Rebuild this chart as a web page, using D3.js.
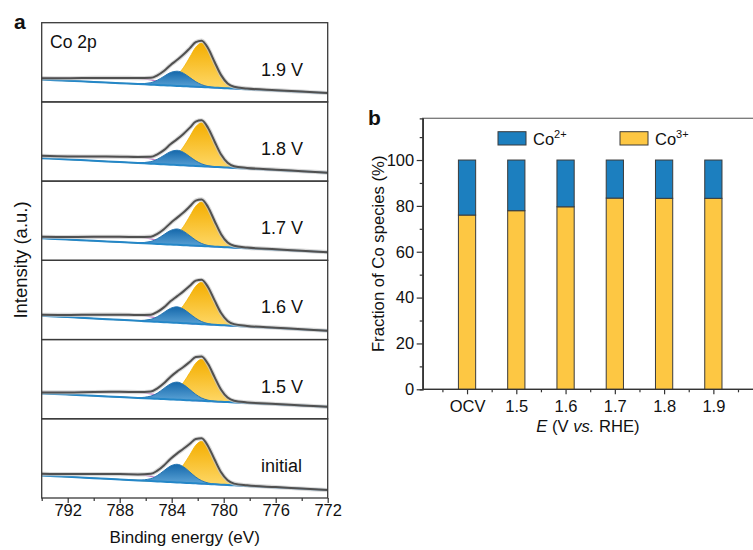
<!DOCTYPE html>
<html lang="en">
<head>
<meta charset="UTF-8">
<title>Co 2p XPS and Co species fraction</title>
<script src="https://d3js.org/d3.v7.min.js"></script>
<style>
  body, html { margin: 0; padding: 0; background: #fff; }
  svg { display: block; font-family: "Liberation Sans", Arial, sans-serif; }
</style>
</head>
<body>
<script>
// ---------- panel a : Co 2p spectra ----------
const energy = [794, 792, 790, 788, 786.6, 785.6, 785.1, 784.6, 784.1, 783.6, 783.1, 782.6, 782.15, 781.7, 781.2, 780.7, 780.2, 779.7, 779.2, 778.2, 776, 774, 772];
const spectraLabels = ["1.9 V", "1.8 V", "1.7 V", "1.6 V", "1.5 V", "initial"];

// linear background: intensity at 794 eV and at 772 eV
const bgStart = [22.4, 23.0, 22.0, 23.8, 25.4, 22.5];
const bgEnd   = [8.9, 8.5, 8.2, 8.8, 12.0, 7.9];

// satellite, Co2+ and Co3+ components (intensity above background, on the energy grid)
const satellite = [
  [1.3, 2.5, 4.0, 5.3, 5.8, 4.8, 3.6, 2.3, 1.2, 0.5, 0.1, 0, 0, 0, 0, 0, 0, 0, 0, 0, 0, 0, 0],
  [2.3, 3.0, 4.2, 5.4, 5.8, 4.8, 3.6, 2.3, 1.2, 0.5, 0.1, 0, 0, 0, 0, 0, 0, 0, 0, 0, 0, 0, 0],
  [1.6, 2.6, 4.0, 5.3, 5.8, 4.8, 3.6, 2.3, 1.2, 0.5, 0.1, 0, 0, 0, 0, 0, 0, 0, 0, 0, 0, 0, 0],
  [1.0, 2.2, 3.8, 5.2, 5.6, 4.6, 3.5, 2.2, 1.2, 0.5, 0.1, 0, 0, 0, 0, 0, 0, 0, 0, 0, 0, 0, 0],
  [1.0, 2.2, 3.8, 5.2, 5.6, 4.6, 3.5, 2.2, 1.2, 0.5, 0.1, 0, 0, 0, 0, 0, 0, 0, 0, 0, 0, 0, 0],
  [1.7, 2.7, 4.1, 5.4, 5.8, 4.8, 3.6, 2.3, 1.2, 0.5, 0.1, 0, 0, 0, 0, 0, 0, 0, 0, 0, 0, 0, 0]
];
const co2 = [
  [0, 0, 0, 0, 0.2, 2.0, 4.8, 8.9, 13.0, 14.7, 13.0, 8.9, 5.1, 2.4, 0.8, 0.2, 0.05, 0, 0, 0, 0, 0, 0],
  [0, 0, 0, 0, 0.2, 2.0, 4.8, 8.9, 13.0, 14.7, 13.0, 8.9, 5.1, 2.4, 0.8, 0.2, 0.05, 0, 0, 0, 0, 0, 0],
  [0, 0, 0, 0, 0.2, 2.15, 5.2, 9.65, 14.0, 15.9, 14.0, 9.65, 5.6, 2.6, 0.9, 0.24, 0.05, 0, 0, 0, 0, 0, 0],
  [0, 0, 0, 0, 0.2, 2.2, 5.2, 9.7, 14.1, 16.0, 14.1, 9.7, 5.6, 2.6, 0.9, 0.24, 0.05, 0, 0, 0, 0, 0, 0],
  [0, 0, 0, 0, 0.2, 2.4, 5.7, 10.7, 15.5, 17.6, 15.5, 10.7, 6.2, 2.9, 1.0, 0.26, 0.05, 0, 0, 0, 0, 0, 0],
  [0, 0, 0, 0, 0.2, 2.4, 5.9, 11.0, 16.0, 18.1, 16.0, 11.0, 6.3, 3.0, 1.0, 0.27, 0.05, 0, 0, 0, 0, 0, 0]
];
const co3 = [
  [0, 0, 0, 0, 0, 0, 1.3, 3.1, 6.2, 10.6, 18.5, 29.5, 39.6, 44.0, 38.3, 25.5, 12.8, 4.8, 1.8, 0.7, 0.35, 0.18, 0],
  [0, 0, 0, 0, 0, 0, 1.3, 3.0, 6.1, 10.4, 18.3, 29.1, 39.2, 43.5, 37.8, 25.2, 12.6, 4.8, 1.7, 0.65, 0.35, 0.17, 0],
  [0, 0, 0, 0, 0, 0, 1.3, 3.1, 6.2, 10.6, 18.5, 29.5, 39.6, 44.0, 38.3, 25.5, 12.8, 4.8, 1.8, 0.7, 0.35, 0.18, 0],
  [0, 0, 0, 0, 0, 0, 1.25, 2.9, 5.9, 10.0, 17.6, 28.0, 37.6, 41.8, 36.4, 24.2, 12.1, 4.6, 1.7, 0.6, 0.33, 0.17, 0],
  [0, 0, 0, 0, 0, 0, 1.25, 2.9, 5.8, 10.0, 17.4, 27.8, 37.4, 41.5, 36.1, 24.1, 12.0, 4.6, 1.7, 0.6, 0.33, 0.17, 0],
  [0, 0, 0, 0, 0, 0, 1.27, 3.0, 5.9, 10.2, 17.8, 28.3, 38.1, 42.3, 36.8, 24.5, 12.3, 4.7, 1.7, 0.63, 0.34, 0.17, 0]
];
const energyMajorTicks = [792, 788, 784, 780, 776, 772];
const energyMinorTicks = [794, 790, 786, 782, 778, 774];

// ---------- panel b : fraction of Co species ----------
const potentials = ["OCV", "1.5", "1.6", "1.7", "1.8", "1.9"];
const co3Fraction = [76.0, 77.9, 79.6, 83.4, 83.3, 83.3];
const co2Fraction = [24.0, 22.1, 20.4, 16.6, 16.7, 16.7];
const fracMajorTicks = [0, 20, 40, 60, 80, 100];
const fracMinorTicks = [10, 30, 50, 70, 90, 110];

const blue = "#1c7fbf", yellow = "#fdc743";

const svg = d3.select("body").append("svg")
  .attr("width", 753)
  .attr("height", 550);

const defs = svg.append("defs");
function gradient(id, top, bottom) {
  const g = defs.append("linearGradient").attr("id", id)
    .attr("x1", 0).attr("y1", 0).attr("x2", 0).attr("y2", 1);
  g.append("stop").attr("offset", "0%").attr("stop-color", top);
  g.append("stop").attr("offset", "100%").attr("stop-color", bottom);
}
gradient("gBlue", "#1568ab", "#72b6e4");
gradient("gYellow", "#f4ae00", "#ffdc72");

// ===== panel a =====
const aLeft = 41.7, aRight = 327.7, aTop = 22.7, aBottom = 498;
const xA = d3.scaleLinear().domain([794, 772]).range([aLeft, aRight]);
const band = d3.scaleBand().domain(spectraLabels).range([aTop, aBottom]);

spectraLabels.forEach((lab, k) => {
  const top = band(lab), h = band.bandwidth();
  const yS = d3.scaleLinear().domain([0, 79.2]).range([top + h, top]);
  const bg = d3.scaleLinear().domain([794, 772]).range([bgStart[k], bgEnd[k]]);

  const pts = energy.map((e, i) => ({
    e: e,
    b: bg(e),
    sat: bg(e) + satellite[k][i],
    c2: bg(e) + co2[k][i],
    c3: bg(e) + co3[k][i],
    env: bg(e) + satellite[k][i] + co2[k][i] + co3[k][i]
  }));

  const g = svg.append("g");
  const curve = d3.curveMonotoneX;
  const area = key => d3.area().x(d => xA(d.e)).y0(d => yS(d.b)).y1(d => yS(d[key])).curve(curve);
  const line = key => d3.line().x(d => xA(d.e)).y(d => yS(d[key])).curve(curve);

  // satellite component
  g.append("path").attr("d", line("sat")(pts))
    .attr("fill", "none").attr("stroke", "#c882c9").attr("stroke-width", 1.3);
  // Co3+ component
  g.append("path").attr("d", area("c3")(pts)).attr("fill", "url(#gYellow)");
  g.append("path").attr("d", line("c3")(pts))
    .attr("fill", "none").attr("stroke", "#f3b200").attr("stroke-width", 0.8);
  // Co2+ component
  g.append("path").attr("d", area("c2")(pts)).attr("fill", "url(#gBlue)");
  g.append("path").attr("d", line("c2")(pts))
    .attr("fill", "none").attr("stroke", "#2676b3").attr("stroke-width", 1);
  // background
  g.append("path").attr("d", line("b")(pts))
    .attr("fill", "none").attr("stroke", "#2487c8").attr("stroke-width", 2);
  // measured data halo + envelope
  g.append("path").attr("d", line("env")(pts))
    .attr("fill", "none").attr("stroke", "#c8c8c8").attr("stroke-width", 4.2)
    .attr("opacity", 0.7);
  g.append("path").attr("d", line("env")(pts))
    .attr("fill", "none").attr("stroke", "#505050").attr("stroke-width", 2);

  // frame
  g.append("rect").attr("x", aLeft).attr("y", top)
    .attr("width", aRight - aLeft).attr("height", h)
    .attr("fill", "none").attr("stroke", "#3a3a3a").attr("stroke-width", 1.3);

  g.append("text").attr("x", 261).attr("y", top + 53)
    .attr("font-size", 18).attr("fill", "#111").text(lab);
});

svg.append("text").attr("x", 50).attr("y", 48.3)
  .attr("font-size", 17.5).attr("fill", "#111").text("Co 2p");

const axA = svg.append("g").attr("transform", `translate(0,${aBottom})`);
axA.append("g").call(d3.axisBottom(xA).tickValues(energyMinorTicks).tickSize(3).tickFormat(""))
  .call(s => s.select(".domain").remove());
axA.append("g").call(d3.axisBottom(xA).tickValues(energyMajorTicks).tickSize(5).tickPadding(1.5))
  .call(s => s.select(".domain").remove());
axA.selectAll("line").attr("stroke", "#333").attr("stroke-width", 1.2);
axA.selectAll("text").attr("font-size", 16.5).attr("fill", "#111")
  .attr("font-family", "Liberation Sans, Arial, sans-serif");

svg.append("text").attr("x", (aLeft + aRight) / 2).attr("y", 543)
  .attr("text-anchor", "middle").attr("font-size", 17).attr("fill", "#111")
  .text("Binding energy (eV)");
svg.append("text").attr("transform", "translate(27,260) rotate(-90)")
  .attr("text-anchor", "middle").attr("font-size", 18.5).attr("fill", "#111")
  .text("Intensity (a.u.)");
svg.append("text").attr("x", 14).attr("y", 29.3)
  .attr("font-size", 21).attr("font-weight", "bold").attr("fill", "#111").text("a");

// ===== panel b =====
const bLeft = 422.7, bRight = 757.7, bTop = 118.3, bBottom = 389.3;
const xB = d3.scaleLinear().domain([-0.9, 5.9]).range([bLeft, bRight]);
const yB = d3.scaleLinear().domain([0, 118.2]).range([bBottom, bTop]);
const barW = xB(0.35) - xB(0);

svg.append("rect").attr("x", bLeft).attr("y", bTop)
  .attr("width", bRight - bLeft).attr("height", bBottom - bTop)
  .attr("fill", "none").attr("stroke", "#777").attr("stroke-width", 1.3);

const bars = svg.append("g");
bars.selectAll("rect.co3").data(potentials).join("rect")
  .attr("class", "co3")
  .attr("x", (d, i) => xB(i) - barW / 2)
  .attr("y", (d, i) => yB(co3Fraction[i]))
  .attr("width", barW)
  .attr("height", (d, i) => yB(0) - yB(co3Fraction[i]))
  .attr("fill", yellow).attr("stroke", "#3b3b3b").attr("stroke-width", 1);
bars.selectAll("rect.co2").data(potentials).join("rect")
  .attr("class", "co2")
  .attr("x", (d, i) => xB(i) - barW / 2)
  .attr("y", (d, i) => yB(co3Fraction[i] + co2Fraction[i]))
  .attr("width", barW)
  .attr("height", (d, i) => yB(co3Fraction[i]) - yB(co3Fraction[i] + co2Fraction[i]))
  .attr("fill", blue).attr("stroke", "#3b3b3b").attr("stroke-width", 1);

const axBy = svg.append("g").attr("transform", `translate(${bLeft},0)`);
axBy.append("g").call(d3.axisLeft(yB).tickValues(fracMinorTicks).tickSize(3).tickFormat(""));
axBy.append("g").call(d3.axisLeft(yB).tickValues(fracMajorTicks).tickSize(6).tickPadding(2.5).tickSizeOuter(0));
axBy.selectAll(".domain").attr("stroke", "#333").attr("stroke-width", 1.3);
axBy.selectAll("line").attr("stroke", "#333").attr("stroke-width", 1.2);
axBy.selectAll("text").attr("font-size", 16.5).attr("fill", "#111")
  .attr("font-family", "Liberation Sans, Arial, sans-serif");

const axBx = svg.append("g").attr("transform", `translate(0,${bBottom})`);
axBx.append("g").call(d3.axisBottom(xB).tickValues(d3.range(-0.5, 6, 1)).tickSize(3).tickFormat(""))
  .call(s => s.select(".domain").remove());
axBx.append("g").call(d3.axisBottom(xB).tickValues(d3.range(0, 6)).tickSize(5).tickPadding(6)
    .tickFormat(i => potentials[i]))
  .call(s => s.select(".domain").remove());
axBx.append("line").attr("x1", bLeft).attr("x2", bRight).attr("stroke", "#333").attr("stroke-width", 1.3);
axBx.selectAll("line").attr("stroke", "#333").attr("stroke-width", 1.2);
axBx.selectAll("text").attr("font-size", 16.5).attr("fill", "#111")
  .attr("font-family", "Liberation Sans, Arial, sans-serif");

// legend
const legend = [{name: "2+", color: blue, x: 498}, {name: "3+", color: yellow, x: 620}];
const lg = svg.append("g");
legend.forEach(l => {
  lg.append("rect").attr("x", l.x).attr("y", 131.7).attr("width", 28).attr("height", 13.3)
    .attr("fill", l.color).attr("stroke", "#3b3b3b").attr("stroke-width", 1);
  const t = lg.append("text").attr("x", l.x + 35).attr("y", 144.5)
    .attr("font-size", 16.5).attr("fill", "#111");
  t.append("tspan").text("Co");
  t.append("tspan").attr("font-size", 11).attr("dy", -7).text(l.name);
});

svg.append("text").attr("transform", `translate(384,${(bTop + bBottom) / 2}) rotate(-90)`)
  .attr("text-anchor", "middle").attr("font-size", 16.7).attr("fill", "#111")
  .text("Fraction of Co species (%)");

const xt = svg.append("text").attr("x", 588).attr("y", 431.7)
  .attr("text-anchor", "middle").attr("font-size", 16.6).attr("fill", "#111");
xt.append("tspan").attr("font-style", "italic").text("E");
xt.append("tspan").text(" (V ");
xt.append("tspan").attr("font-style", "italic").text("vs.");
xt.append("tspan").text(" RHE)");

svg.append("text").attr("x", 368).attr("y", 125)
  .attr("font-size", 21).attr("font-weight", "bold").attr("fill", "#111").text("b");
</script>
</body>
</html>
